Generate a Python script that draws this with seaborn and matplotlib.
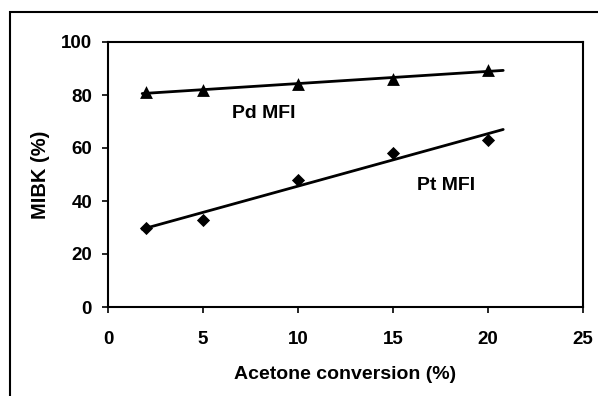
import numpy as np
import pandas as pd
import matplotlib
matplotlib.use("Agg")
import matplotlib.pyplot as plt
from matplotlib.patches import Rectangle
import seaborn as sns

# Data
conversion = [2, 5, 10, 15, 20]
pd_mfi = [81, 82, 84, 86, 89.5]
pt_mfi = [30, 33, 48, 58, 63]
x_ticks = [0, 5, 10, 15, 20, 25]
y_ticks = [0, 20, 40, 60, 80, 100]

sns.set_style("white")
plt.rcParams["font.family"] = ["Liberation Sans", "DejaVu Sans"]
plt.rcParams["font.weight"] = "bold"
plt.rcParams["text.color"] = "black"
plt.rcParams["axes.labelcolor"] = "black"
plt.rcParams["xtick.color"] = "black"
plt.rcParams["ytick.color"] = "black"

fig = plt.figure(figsize=(5.98, 3.96), dpi=100)
ax = fig.add_axes([108 / 598, 1 - 307 / 396, (583 - 108) / 598, (307 - 42) / 396])

sns.scatterplot(x=conversion, y=pd_mfi, marker="^", color="black", s=85,
                linewidth=0, legend=False, ax=ax)
sns.scatterplot(x=conversion, y=pt_mfi, marker="D", color="black", s=45,
                linewidth=0, legend=False, ax=ax)

# Linear trend lines computed from the data
for vals in (pd_mfi, pt_mfi):
    xs = np.asarray(conversion, float)
    slope, icpt = np.polyfit(xs, np.asarray(vals, float), 1)
    grid = np.linspace(xs.min() - 0.2, xs.max() + 0.8, 50)
    sns.lineplot(x=grid, y=slope * grid + icpt, color="black", linewidth=2.0, ax=ax)

ax.set_xlim(0, 25)
ax.set_ylim(0, 100)
ax.set_xticks(x_ticks)
ax.set_yticks(y_ticks)
ax.set_xticklabels([str(t) for t in x_ticks], fontsize=13.5, fontweight="bold")
ax.set_yticklabels([str(t) for t in y_ticks], fontsize=13.5, fontweight="bold")
ax.tick_params(axis="x", direction="out", length=4.5, width=1.2, pad=13, bottom=True)
ax.tick_params(axis="y", direction="out", length=4.5, width=1.2, pad=7, left=True)
for sp in ax.spines.values():
    sp.set_visible(True)
    sp.set_color("black")
    sp.set_linewidth(1.5)

ax.set_xlabel("Acetone conversion (%)", fontsize=14, fontweight="bold", labelpad=13)
ax.set_ylabel("MIBK (%)", fontsize=14.5, fontweight="bold", labelpad=8)

ax.text(8.2, 73.2, "Pd MFI", ha="center", va="center", fontsize=14, fontweight="bold")
ax.text(17.8, 46, "Pt MFI", ha="center", va="center", fontsize=14, fontweight="bold")

# outer frame (partially cropped at right and bottom, like the reference)
fig.patches.append(Rectangle((9.5 / 598, -0.1), 1.2, 1 - 12 / 396 + 0.1,
                             transform=fig.transFigure, fill=False,
                             edgecolor="black", linewidth=1.5))

fig.savefig("out.png", dpi=100)
